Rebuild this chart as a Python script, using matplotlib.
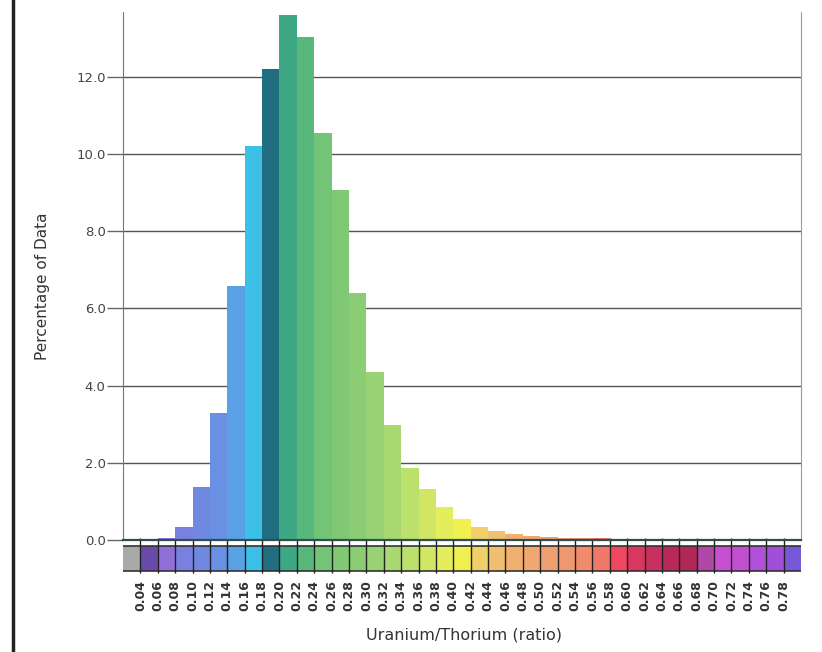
import numpy as np
import matplotlib.pyplot as plt
from matplotlib.lines import Line2D

# -------------------------------
# Data (bin left edges, % of data)
# -------------------------------
bin_edges = np.round(np.arange(0.02, 0.8001, 0.02), 2)
percent = [0.0, 0.02, 0.06, 0.34, 1.37, 3.3, 6.58, 10.2, 12.2, 13.6,
           13.03, 10.55, 9.07, 6.4, 4.35, 2.98, 1.87, 1.32, 0.86, 0.54,
           0.34, 0.23, 0.16, 0.11, 0.08, 0.06, 0.05, 0.04, 0.03, 0.03,
           0.02, 0.02, 0.02, 0.01, 0.01, 0.01, 0.0, 0.0, 0.0]
bin_colors = ['#a9a9a9', '#6a4aa8', '#9070d8', '#7a80e0', '#7088e0',
              '#6a90e4', '#5aa0e4', '#3cc0e8', '#206e80', '#3ea884',
              '#58b87c', '#74c478', '#80c874', '#8ccc74', '#98d274',
              '#a8d870', '#bce06c', '#d2e666', '#e4ee5c', '#f0f050',
              '#f0d068', '#f0c070', '#f0b070', '#f0a870', '#f0a070',
              '#f09870', '#f08c6c', '#f07868', '#f04860', '#d83860',
              '#c83060', '#b82858', '#b02858', '#b048a8', '#c850d0',
              '#c050d0', '#b050d8', '#a050d8', '#7858d8']
tick_vals = bin_edges[1:-1]
y_ticks = [0, 2, 4, 6, 8, 10, 12]

W, H = 822, 652
fig = plt.figure(figsize=(W / 100, H / 100), dpi=100)


def px_axes(x0, y0, x1, y1):
    return fig.add_axes([x0 / W, 1 - y1 / H, (x1 - x0) / W, (y1 - y0) / H])


# -------------------------------
# Colour key strip with bin ticks (drawn first, transparent)
# -------------------------------
ax2 = px_axes(123, 536, 801, 576)
ax2.patch.set_visible(False)
ax2.set_xlim(0.02, 0.80)
ax2.set_ylim(40, 0)
ax2.bar(bin_edges[:-1], 25, bottom=10, width=0.02, align='edge',
        color=bin_colors, linewidth=0)
ax2.hlines([10, 35], 0.02, 0.80, color='#333333', linewidth=1.2)
ax2.vlines(tick_vals, 2, 37, color='#222222', linewidth=1.0)
ax2.set_yticks([])
ax2.set_xticks(tick_vals)
ax2.set_xticklabels([f"{v:.2f}" for v in tick_vals], rotation=90,
                    fontsize=9, fontweight='bold', color='#333333')
ax2.tick_params(axis='x', length=0, pad=3)
for s in ax2.spines.values():
    s.set_visible(False)

# -------------------------------
# Histogram
# -------------------------------
ax = px_axes(123, 12, 801, 540)
ax.patch.set_visible(False)
ax.bar(bin_edges[:-1], percent, width=0.02, align='edge',
       color=bin_colors, linewidth=0, zorder=2)
ax.set_xlim(0.02, 0.80)
ax.set_ylim(0, 13.68)
ax.set_yticks(y_ticks)
ax.set_yticklabels([f"{v:.1f}" for v in y_ticks])
ax.set_xticks([])
ax.yaxis.grid(True, color='#555555', linewidth=1.0, zorder=0)
ax.set_axisbelow(True)
ax.tick_params(axis='y', length=11.5, width=1.0, color='#666666',
               labelsize=9.5, labelcolor='#444444', pad=1)
ax.spines['top'].set_visible(False)
ax.spines['left'].set_color('#777777')
ax.spines['right'].set_color('#999999')
ax.spines['right'].set_linestyle((0, (3, 1)))
ax.spines['bottom'].set_color('#2f4f4f')
ax.spines['bottom'].set_linewidth(1.6)

# -------------------------------
# Labels
# -------------------------------
fig.text(464 / W, 1 - 635 / H, "Uranium/Thorium (ratio)", ha='center',
         va='center', fontsize=11.5, color='#333333')
fig.text(43 / W, 1 - 286 / H, "Percentage of Data", ha='center',
         va='center', rotation=90, fontsize=11, color='#333333')

# scan border on the left
fig.add_artist(Line2D([13 / W, 13 / W], [0, 1], color='#222222',
                      linewidth=2.5))

fig.savefig("out.png", dpi=100)
